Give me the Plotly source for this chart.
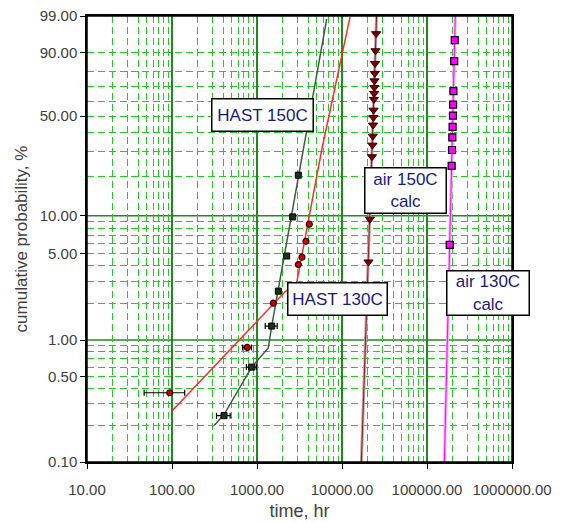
import math
import plotly.graph_objects as go

# ---------------- data ----------------
# HAST 150C measured failures (time in hr, cumulative probability in %)
hast150_time = [409, 865, 1489, 1782, 2234, 2630, 3062]
hast150_prob = [0.24, 0.6, 1.3, 2.5, 4.8, 9.8, 20.3]
hast150_err = [75, 115, 240, 0, 0, 0, 0]
# HAST 150C curve through the data
hast150_curve_time = [315, 409, 865, 1358, 1489, 6607]
hast150_curve_prob = [0.20, 0.245, 0.6, 0.86, 1.3, 98.7]

# HAST 130C measured failures
hast130_time = [94, 769, 1556, 3062, 3381, 3767, 4121]
hast130_prob = [0.37, 0.87, 2.0, 4.1, 4.7, 6.3, 8.6]
hast130_err = [47, 93, 0, 0, 0, 0, 0]
# HAST 130C fit line
hast130_fit_time = [100, 2134, 2931, 5768, 12420]
hast130_fit_prob = [0.262, 2.47, 2.93, 30.6, 98.9]

# air 150C calculated
air150_time = [25200, 24800, 24500, 24300, 24100, 24000, 23900, 23700,
               23500, 23400, 23200, 23000, 22800, 22500, 21300, 20500]
air150_prob = [96.3, 90.8, 84.7, 78.9, 74.1, 69.6, 65.5, 61.4,
               54.0, 49.1, 44.3, 37.8, 33.0, 27.5, 9.4, 4.3]
air150_fit_time = [16900, 25500]
air150_fit_prob = [0.1, 99.0]

# air 130C calculated
air130_time = [212000, 209000, 204500, 203000, 202000, 200000, 198500,
               197000, 195000, 185000]
air130_prob = [94.6, 85.9, 67.1, 57.8, 50.4, 43.2, 37.1, 30.6, 23.7, 5.9]
air130_fit_time = [160000, 215000]
air130_fit_prob = [0.1, 99.0]

# axis ticks / grid
x_tick_vals = [10, 100, 1000, 10000, 100000, 1000000]
x_tick_text = ["10.00", "100.00", "1000.00", "10000.00", "100000.00", "1000000.00"]
x_minor_mult = [2, 3, 4, 5, 6, 7, 8, 9]
y_tick_probs = [0.1, 0.5, 1.0, 5.0, 10.0, 50.0, 90.0, 99.0]
y_tick_text = ["0.10", "0.50", "1.00", "5.00", "10.00", "50.00", "90.00", "99.00"]
y_dashed_probs = [0.2, 0.3, 0.4, 0.5, 0.6, 0.7, 0.8, 0.9,
                  2, 3, 4, 5, 6, 7, 8, 9,
                  20, 30, 40, 50, 60, 70, 80, 90]
y_solid_probs = [1.0, 10.0]


def wb(p):
    """percent -> Weibull probability-paper coordinate ln(-ln(1-F))"""
    return math.log(-math.log(1.0 - p / 100.0))


def wbl(ps):
    return [wb(p) for p in ps]


FONT = "Liberation Sans, Arial, sans-serif"
GRID_DASH = "#22cc22"
GRID_SOLID = "#1f8a1f"

fig = go.Figure()

# fit / connecting lines
fig.add_trace(go.Scatter(x=air150_fit_time, y=wbl(air150_fit_prob), mode="lines",
                         line=dict(color="#c9a0a0", width=3), showlegend=False))
fig.add_trace(go.Scatter(x=air150_fit_time, y=wbl(air150_fit_prob), mode="lines",
                         line=dict(color="#8a2020", width=1), showlegend=False))
fig.add_trace(go.Scatter(x=air130_fit_time, y=wbl(air130_fit_prob), mode="lines",
                         line=dict(color="#ffa8ff", width=3), showlegend=False))
fig.add_trace(go.Scatter(x=air130_fit_time, y=wbl(air130_fit_prob), mode="lines",
                         line=dict(color="#ff00ff", width=1), showlegend=False))
fig.add_trace(go.Scatter(x=hast150_curve_time, y=wbl(hast150_curve_prob), mode="lines",
                         line=dict(color="#3d5c3d", width=1.5), showlegend=False))
fig.add_trace(go.Scatter(x=hast130_fit_time, y=wbl(hast130_fit_prob), mode="lines",
                         line=dict(color="#ff2a2a", width=1.5), showlegend=False))

# data markers
fig.add_trace(go.Scatter(
    x=hast150_time, y=wbl(hast150_prob), mode="markers",
    marker=dict(symbol="square", size=6, color="#1a331a",
                line=dict(color="black", width=1)),
    error_x=dict(type="data", array=hast150_err, color="black", thickness=1.2, width=3),
    showlegend=False))
fig.add_trace(go.Scatter(
    x=hast130_time, y=wbl(hast130_prob), mode="markers",
    marker=dict(symbol="circle", size=6, color="#cc0000",
                line=dict(color="#300000", width=1.2)),
    error_x=dict(type="data", array=hast130_err, color="black", thickness=1.2, width=3),
    showlegend=False))
fig.add_trace(go.Scatter(
    x=air150_time, y=wbl(air150_prob), mode="markers",
    marker=dict(symbol="triangle-down", size=8, color="#7a0000",
                line=dict(color="#300000", width=1)),
    showlegend=False))
fig.add_trace(go.Scatter(
    x=air130_time, y=wbl(air130_prob), mode="markers",
    marker=dict(symbol="square", size=7, color="#ff00ff",
                line=dict(color="black", width=1.2)),
    showlegend=False))

# solid horizontal grid lines at 1 % and 10 %, plus plot frame
shapes = []
for p in y_solid_probs:
    shapes.append(dict(type="line", xref="paper", x0=0, x1=1, yref="y",
                       y0=wb(p), y1=wb(p), layer="between",
                       line=dict(color=GRID_SOLID, width=1.5)))
shapes.append(dict(type="rect", xref="paper", yref="paper", x0=0, x1=1, y0=0, y1=1,
                   layer="above", line=dict(color="black", width=1.5)))

x_minor_vals = [m * d for d in x_tick_vals[:-1] for m in x_minor_mult]

# text boxes
labels = [
    ("HAST 150C", 0.4118, 0.7791, 98, 29),
    ("air 150C<br>calc", 0.7494, 0.6081, 78, 42),
    ("HAST 130C", 0.5903, 0.3650, 96, 29),
    ("air 130C<br>calc", 0.9447, 0.3782, 79, 41),
]
annotations = []
for txt, ax_, ay_, w_, h_ in labels:
    annotations.append(dict(
        text=txt, xref="paper", yref="paper", x=ax_, y=ay_,
        xanchor="center", yanchor="middle", showarrow=False,
        width=w_, height=h_, align="center", valign="middle",
        bgcolor="white", bordercolor="black", borderwidth=1.5, borderpad=1,
        font=dict(family=FONT, size=17, color="#1a1a80")))

fig.update_layout(
    width=567, height=515,
    margin=dict(l=79, r=63, t=8, b=61, autoexpand=False),
    paper_bgcolor="white", plot_bgcolor="white",
    font=dict(family=FONT, color="#404040"),
    shapes=shapes, annotations=annotations,
    xaxis=dict(
        type="log", range=[1, 6], automargin=False,
        tickmode="array", tickvals=x_tick_vals, ticktext=x_tick_text,
        ticks="outside", ticklen=5, tickcolor="black", tickwidth=1,
        ticklabelstandoff=8, ticklabeloverflow="allow",
        tickfont=dict(family=FONT, size=15, color="#404040"),
        showgrid=True, gridcolor=GRID_SOLID, gridwidth=1.5,
        minor=dict(tickmode="array", tickvals=x_minor_vals, showgrid=True,
                   gridcolor=GRID_DASH, gridwidth=1, griddash="7px,4px"),
        showline=True, linecolor="black", linewidth=1.5, mirror=True,
        zeroline=False,
        title=dict(text="time, hr", font=dict(family=FONT, size=18, color="#404040"),
                   standoff=8),
    ),
    yaxis=dict(
        range=[wb(0.1), wb(99.0)], automargin=False,
        tickmode="array", tickvals=wbl(y_tick_probs), ticktext=y_tick_text,
        ticks="outside", ticklen=5, tickcolor="black", tickwidth=1,
        ticklabeloverflow="allow",
        tickfont=dict(family=FONT, size=15, color="#404040"),
        showgrid=False,
        minor=dict(tickmode="array", tickvals=wbl(y_dashed_probs), showgrid=True,
                   gridcolor=GRID_DASH, gridwidth=1, griddash="7px,4px"),
        showline=True, linecolor="black", linewidth=1.5, mirror=True,
        zeroline=False,
        title=dict(text="cumulative probability, %",
                   font=dict(family=FONT, size=17, color="#404040"), standoff=8),
    ),
)

fig.write_html("out.html")
